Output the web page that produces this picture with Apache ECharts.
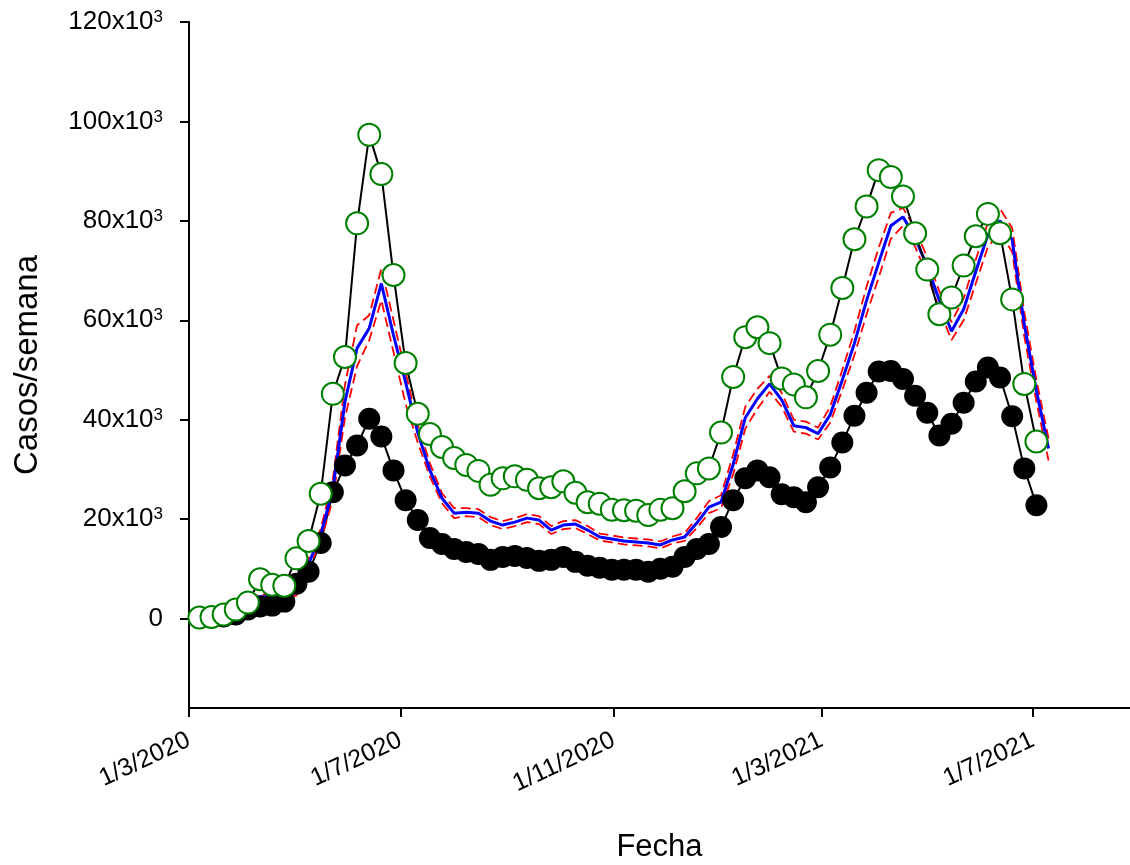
<!DOCTYPE html>
<html>
<head>
<meta charset="utf-8">
<script src="https://cdn.jsdelivr.net/npm/echarts@6/dist/echarts.min.js"></script>
<style>
html,body{margin:0;padding:0;background:#fff;}
#chart{width:1130px;height:865px;}
</style>
</head>
<body>
<div id="chart"></div>
<script>
// Weekly dates (d/m/yyyy axis labels)
const weekDates = [
 '2020-03-07','2020-03-14','2020-03-21','2020-03-28','2020-04-04','2020-04-11','2020-04-18','2020-04-25',
 '2020-05-02','2020-05-09','2020-05-16','2020-05-23','2020-05-30','2020-06-06','2020-06-13','2020-06-20',
 '2020-06-27','2020-07-04','2020-07-11','2020-07-18','2020-07-25','2020-08-01','2020-08-08','2020-08-15',
 '2020-08-22','2020-08-29','2020-09-05','2020-09-12','2020-09-19','2020-09-26','2020-10-03','2020-10-10',
 '2020-10-17','2020-10-24','2020-10-31','2020-11-07','2020-11-14','2020-11-21','2020-11-28','2020-12-05',
 '2020-12-12','2020-12-19','2020-12-26','2021-01-02','2021-01-09','2021-01-16','2021-01-23','2021-01-30',
 '2021-02-06','2021-02-13','2021-02-20','2021-02-27','2021-03-06','2021-03-13','2021-03-20','2021-03-27',
 '2021-04-03','2021-04-10','2021-04-17','2021-04-24','2021-05-01','2021-05-08','2021-05-15','2021-05-22',
 '2021-05-29','2021-06-05','2021-06-12','2021-06-19','2021-06-26','2021-07-03','2021-07-10'
];

// Black filled circles
const casosA = [
 100,200,400,800,1800,2400,2600,3400,7000,9400,15200,25400,30800,34800,40200,36600,
 29800,23800,19800,16200,15000,14000,13400,13000,11800,12400,12600,12200,11600,11800,12400,11400,
 10600,10200,9800,9800,9800,9400,10000,10400,12400,14000,15000,18400,23800,28200,29800,28400,
 25000,24400,23400,26400,30400,35400,40800,45400,49700,49800,48200,44800,41400,36800,39200,43400,
 47700,50500,48500,40700,30200,22800
];

// Green open circles
const casosB = [
 200,300,800,1800,3200,7900,6800,6600,12100,15600,25100,45200,52600,79500,97300,89400,
 69100,51400,41200,37100,34500,32300,30900,29700,26900,28200,28600,27900,26200,26400,27600,25300,
 23400,23100,21900,21800,21700,20800,21900,22200,25600,29200,30200,37400,48600,56600,58600,55400,
 48300,47100,44500,49800,57100,66500,76300,82900,90200,88800,84900,77500,70200,61200,64600,71000,
 76900,81400,77500,64200,47200,35600
];

// Blue model line
const modelo = [
 null,null,null,null,4000,4400,4400,4600,5200,11000,16800,26000,43600,54400,58400,67400,
 57000,47500,37400,29800,24200,21200,21400,21200,19600,18800,19400,20200,19800,17800,18800,19000,
 17800,16400,16000,15600,15400,15200,14800,15800,16400,19200,22400,23400,31000,40400,44200,47200,
 44000,38800,38400,37200,41000,48000,55400,64000,71600,79000,80800,76600,70800,64000,57800,62200,
 69800,77200,80000,76200,59200,45800,34200
];

// Red dashed upper / lower bands
const modeloSup = [
 null,null,null,null,4300,4800,4800,5000,5800,12000,18000,28000,47000,59000,61000,70400,
 60000,49500,39000,31200,25200,22200,22200,22000,20400,19600,20200,21000,20600,18600,19600,19800,
 18600,17100,16700,16300,16100,15900,15500,16500,17200,20200,23600,24800,33000,42600,46200,48800,
 45400,40000,39600,38400,42600,50000,57800,66800,74600,81600,82600,78400,72600,65800,59600,64400,
 72200,79600,82400,78600,61600,48000,36200
];
const modeloInf = [
 null,null,null,null,3700,4000,4000,4200,4600,10000,15400,24000,40400,50800,56000,64000,
 53600,43200,35400,28600,23200,20200,20600,20400,18800,18000,18600,19400,19000,17000,18000,18200,
 17000,15700,15300,14900,14700,14500,14100,15100,15600,18200,21200,22200,29000,38200,42200,45600,
 42600,37600,37200,36000,39400,46000,53000,61200,68600,76400,79000,74800,69000,62200,56000,60000,
 67400,74800,77600,73800,56800,43600,31800
];

// Axis tick values
const xTickDates = ['2020-03-01','2020-07-01','2020-11-01','2021-03-01','2021-07-01'];
const yTickValues = [0,20000,40000,60000,80000,100000,120000];
const xRange = ['2020-03-01','2021-08-26'];

const toTime = d => { const p = d.split('-'); return new Date(+p[0], +p[1]-1, +p[2]).getTime(); };
const weekTimes = weekDates.map(toTime);
const pair = arr => arr.map((v,i)=>[weekTimes[i], v]);
const xTickTimes = xTickDates.map(toTime);

const FONT = 'Liberation Sans, Arial, sans-serif';
const chart = echarts.init(document.getElementById('chart'));
chart.setOption({
  animation: false,
  backgroundColor: '#fff',
  grid: {left: 189, right: 0, top: 22, bottom: 157, containLabel: false, outerBoundsMode: 'none'},
  xAxis: {
    type: 'value',
    min: toTime(xRange[0]),
    max: toTime(xRange[1]),
    name: 'Fecha',
    nameLocation: 'middle',
    nameGap: 124,
    nameTextStyle: {fontFamily: FONT, fontSize: 31, color: '#000'},
    axisLine: {onZero: false, lineStyle: {color: '#000', width: 2}},
    axisTick: {show: true, inside: false, length: 9, lineStyle: {color: '#000', width: 2}, customValues: xTickTimes},
    axisLabel: {
      customValues: xTickTimes,
      rotate: 25, margin: 31,
      fontFamily: FONT, fontSize: 25, color: '#000',
      formatter: function (v) { const d = new Date(v); return d.getDate() + '/' + (d.getMonth()+1) + '/' + d.getFullYear(); }
    },
    splitLine: {show: false}
  },
  yAxis: {
    type: 'value',
    min: -18000, max: 120000,
    name: 'Casos/semana',
    nameLocation: 'middle',
    nameRotate: 90,
    nameGap: 145,
    nameTextStyle: {fontFamily: FONT, fontSize: 33, color: '#000'},
    axisLine: {show: true, onZero: false, lineStyle: {color: '#000', width: 2}},
    axisTick: {show: true, inside: false, length: 9, lineStyle: {color: '#000', width: 2}, customValues: yTickValues},
    axisLabel: {
      customValues: yTickValues,
      margin: 26,
      fontFamily: FONT, fontSize: 26, color: '#000',
      formatter: function (v) { return v === 0 ? '{b|0}' : '{b|' + (v/1000) + 'x10}{s|3}'; },
      rich: {
        b: {fontFamily: FONT, fontSize: 26, color: '#000'},
        s: {fontFamily: FONT, fontSize: 17, color: '#000', verticalAlign: 'top'}
      }
    },
    splitLine: {show: false}
  },
  series: [
    {
      type: 'line', data: pair(casosA), symbol: 'circle', symbolSize: 22, showAllSymbol: true,
      lineStyle: {color: '#000', width: 2}, itemStyle: {color: '#000'}
    },
    {
      type: 'line', data: pair(modeloSup), symbol: 'none',
      lineStyle: {color: '#ff0000', width: 1.8, type: [10, 5]}
    },
    {
      type: 'line', data: pair(modeloInf), symbol: 'none',
      lineStyle: {color: '#ff0000', width: 1.8, type: [10, 5]}
    },
    {
      type: 'line', data: pair(modelo), symbol: 'none',
      lineStyle: {color: '#0000ff', width: 3}
    },
    {
      type: 'line', data: pair(casosB), symbol: 'circle', symbolSize: 22, showAllSymbol: true,
      lineStyle: {color: '#000', width: 2},
      itemStyle: {color: '#fff', borderColor: '#008000', borderWidth: 2}
    }
  ]
});
</script>
</body>
</html>
